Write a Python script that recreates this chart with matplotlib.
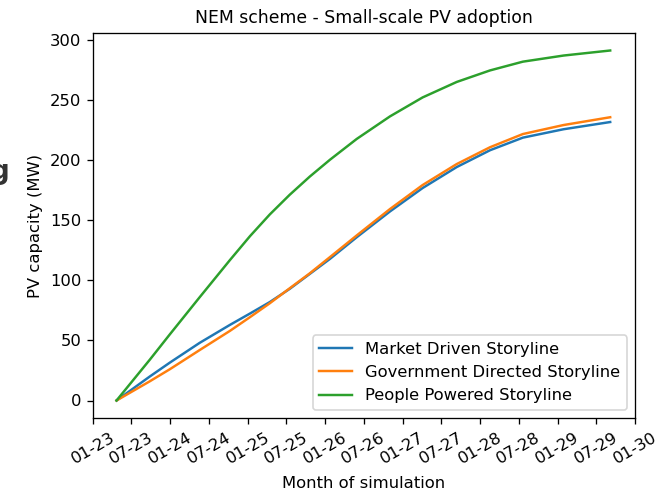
import numpy as np
import matplotlib
matplotlib.use("Agg")
import matplotlib.pyplot as plt
import matplotlib.dates as mdates

# sample dates (x positions of the curves)
dates = np.array([
    "2023-04-22", "2023-09-26", "2023-12-29", "2024-05-18", "2024-10-08",
    "2025-01-11", "2025-04-14", "2025-07-17", "2025-10-20", "2026-01-23",
    "2026-05-29", "2026-11-02", "2027-04-05", "2027-09-13", "2028-02-17",
    "2028-07-21", "2029-01-29", "2029-09-06",
], dtype="datetime64[D]")

market_driven = [0, 20, 31.5, 48, 63, 72.5, 82, 93, 105.5, 118,
                 136, 157.5, 177, 194.5, 208.5, 219, 226, 232]
government_directed = [0, 16, 26, 42, 58, 69.5, 81, 93.5, 106, 119.5,
                       137.5, 159.5, 179.5, 197, 211, 222, 229.5, 236]
people_powered = [0, 34, 55, 86, 117, 137, 155, 171.4, 186.6, 200.6,
                  217.9, 236.7, 252.5, 265.4, 275, 282.3, 287.4, 291.6]

labels = ["Market Driven Storyline", "Government Directed Storyline",
          "People Powered Storyline"]

fig = plt.figure(figsize=(668 / 118, 495 / 118), dpi=118)
ax = fig.add_axes([93 / 668, 1 - 418 / 495, (635 - 93) / 668, (418 - 33) / 495])

for vals, lab in zip((market_driven, government_directed, people_powered), labels):
    ax.plot(dates, vals, label=lab)

ax.set_xlim(np.datetime64("2023-01-01"), np.datetime64("2030-01-01"))
ax.xaxis.set_major_locator(mdates.MonthLocator(bymonth=[1, 7]))
ax.xaxis.set_major_formatter(mdates.DateFormatter("%m-%y"))
plt.setp(ax.get_xticklabels(), rotation=30, ha="center")

ax.set_title("NEM scheme - Small-scale PV adoption", fontsize=10.5)
ax.set_xlabel("Month of simulation", labelpad=6)
ax.set_ylabel("PV capacity (MW)")
ax.legend(loc="lower right")

# cut-off heading fragment at the left edge of the screenshot
fig.text(10 / 668, 1 - 172 / 495, "g", ha="right", va="center",
         fontsize=16, fontweight="bold", color="#333333")

fig.savefig("out.png", dpi=118)
